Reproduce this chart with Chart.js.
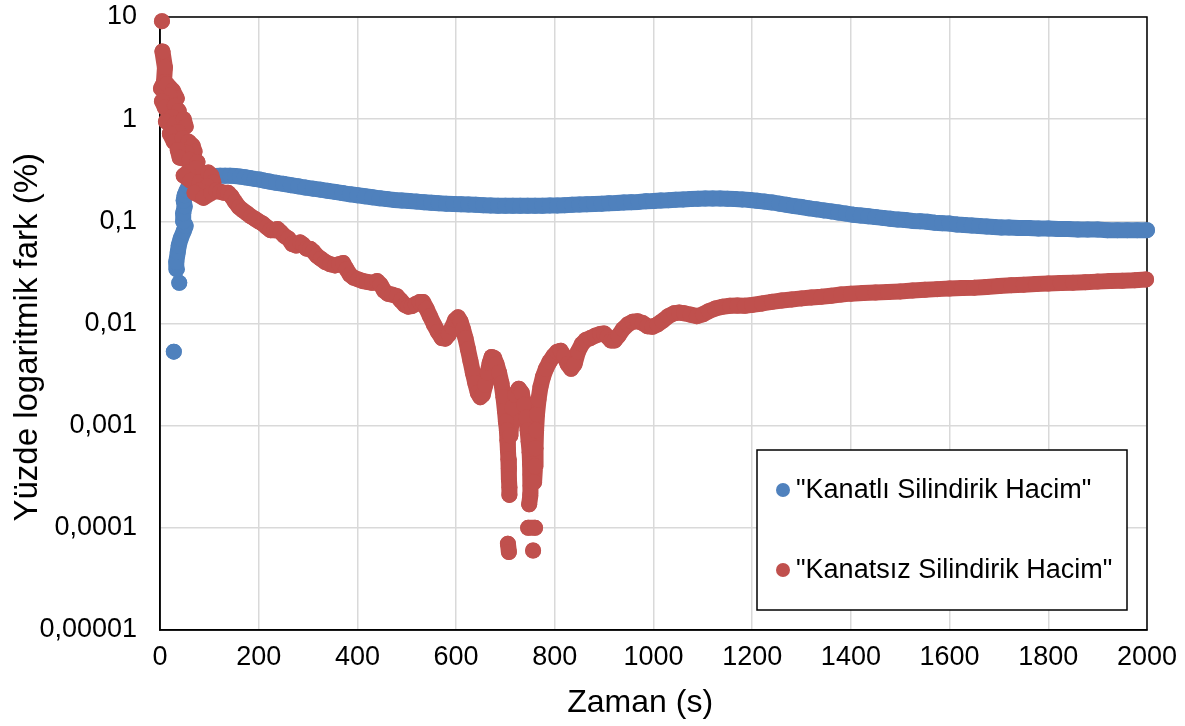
<!DOCTYPE html>
<html lang="tr">
<head>
<meta charset="utf-8">
<title>Yüzde logaritmik fark</title>
<script src="https://cdn.jsdelivr.net/npm/chart.js@4.4.1/dist/chart.umd.min.js"></script>
<style>
  html, body { margin: 0; padding: 0; background: #fff; }
  #wrap { width: 1185px; height: 726px; }
</style>
</head>
<body>
<div id="wrap"><canvas id="farkChart"></canvas></div>
<script>
// tick labels
const xTickValues = [0, 200, 400, 600, 800, 1000, 1200, 1400, 1600, 1800, 2000];
const xTickLabels = ['0', '200', '400', '600', '800', '1000', '1200', '1400', '1600', '1800', '2000'];
const yTickValues = [0.00001, 0.0001, 0.001, 0.01, 0.1, 1, 10];
const yTickLabels = ['0,00001', '0,0001', '0,001', '0,01', '0,1', '1', '10'];

// [zaman (s), fark (%)], null = gap between separate dots
const kanatliPoints = [
  [28, 0.0053], null,
  [39, 0.025], null,
  [34, 0.034], [33, 0.04], [36, 0.05], [38, 0.058], [42, 0.068], [48, 0.08], [52, 0.09], [47, 0.1],
  [47, 0.12], [50, 0.14], [48, 0.16], [50, 0.18], [54, 0.2], [58, 0.22], [64, 0.24], [72, 0.255],
  [82, 0.265], [92, 0.27], [102, 0.275], [112, 0.278], [122, 0.28], [132, 0.28], [142, 0.28],
  [152, 0.278], [162, 0.274], [172, 0.27], [182, 0.265], [192, 0.26], [202, 0.256], [212, 0.25],
  [222, 0.245], [236, 0.238], [250, 0.233], [265, 0.226], [280, 0.22], [295, 0.214], [310, 0.209],
  [325, 0.204], [340, 0.199], [355, 0.194], [370, 0.189], [385, 0.184], [400, 0.18], [415, 0.176],
  [430, 0.172], [445, 0.168], [460, 0.165], [475, 0.162], [490, 0.16], [505, 0.158], [520, 0.156],
  [535, 0.154], [550, 0.152], [565, 0.15], [580, 0.149], [595, 0.148], [610, 0.147], [625, 0.146],
  [640, 0.145], [655, 0.144], [670, 0.143], [685, 0.142], [700, 0.142], [715, 0.142], [730, 0.142],
  [745, 0.142], [760, 0.142], [775, 0.142], [790, 0.143], [805, 0.143], [820, 0.144], [835, 0.145],
  [850, 0.146], [865, 0.147], [880, 0.148], [895, 0.149], [910, 0.15], [925, 0.151], [940, 0.153],
  [955, 0.154], [970, 0.155], [985, 0.157], [1000, 0.158], [1015, 0.16], [1030, 0.161], [1045, 0.163],
  [1060, 0.164], [1075, 0.165], [1090, 0.166], [1105, 0.167], [1120, 0.167], [1135, 0.167],
  [1150, 0.166], [1165, 0.165], [1180, 0.164], [1195, 0.162], [1210, 0.159], [1225, 0.156],
  [1240, 0.153], [1255, 0.149], [1270, 0.145], [1285, 0.141], [1300, 0.138], [1315, 0.134],
  [1330, 0.131], [1345, 0.128], [1360, 0.125], [1375, 0.122], [1390, 0.119], [1405, 0.116],
  [1420, 0.114], [1435, 0.112], [1450, 0.11], [1465, 0.108], [1480, 0.106], [1495, 0.104],
  [1510, 0.103], [1525, 0.101], [1540, 0.1], [1555, 0.099], [1570, 0.097], [1585, 0.096],
  [1600, 0.095], [1615, 0.093], [1630, 0.092], [1645, 0.091], [1660, 0.09], [1675, 0.089],
  [1690, 0.088], [1705, 0.087], [1720, 0.087], [1740, 0.086], [1760, 0.086], [1780, 0.085],
  [1800, 0.085], [1820, 0.084], [1840, 0.084], [1860, 0.083], [1880, 0.083], [1900, 0.083],
  [1920, 0.082], [1940, 0.082], [1960, 0.082], [1980, 0.082], [2000, 0.082]
];

const kanatsizPoints = [
  [4, 9.1], null,
  [5, 4.6], [10, 3.2], [8, 2.3], [2, 2.0], [14, 2.2], [26, 1.9], [34, 1.6], [20, 1.7], [4, 1.5],
  [10, 1.3], [30, 1.35], [38, 1.2], [24, 1.05], [12, 0.95], [30, 0.9], [48, 1.0], [52, 0.85],
  [36, 0.75], [20, 0.72], [28, 0.6], [46, 0.65], [58, 0.6], [66, 0.55], [70, 0.48], [54, 0.47],
  [36, 0.5], [40, 0.42], [60, 0.4], [76, 0.38], [72, 0.33], [56, 0.3], [48, 0.28], [62, 0.25],
  [80, 0.24], [98, 0.3], [104, 0.28], [108, 0.24], [96, 0.22], [80, 0.2], [70, 0.19], [88, 0.17],
  [104, 0.19], [114, 0.2], [122, 0.195], [130, 0.19], [138, 0.19], [145, 0.175],
  [152, 0.155], [160, 0.138], [168, 0.128], [176, 0.12], [184, 0.112], [192, 0.106], [200, 0.1],
  [208, 0.095], [216, 0.088], [224, 0.082], [232, 0.082], [238, 0.084], [245, 0.078], [252, 0.072],
  [260, 0.068], [268, 0.06], [276, 0.058], [284, 0.062], [290, 0.059], [297, 0.054], [304, 0.054],
  [310, 0.051], [318, 0.046], [326, 0.043], [335, 0.04], [345, 0.038], [355, 0.037], [363, 0.038],
  [371, 0.039], [378, 0.034], [385, 0.03], [393, 0.028], [402, 0.027], [411, 0.026], [420, 0.0255],
  [430, 0.025], [440, 0.026], [447, 0.024], [454, 0.021], [462, 0.0195], [470, 0.0192], [480, 0.0185],
  [488, 0.0168], [496, 0.0152], [503, 0.0146], [510, 0.0148], [518, 0.0155], [526, 0.0162],
  [533, 0.0162], [540, 0.014], [547, 0.0118], [555, 0.0098], [563, 0.0083], [571, 0.0072],
  [578, 0.0071], [585, 0.0078], [592, 0.0092], [598, 0.0108], [604, 0.0115], [609, 0.0105],
  [614, 0.0088], [619, 0.0072], [624, 0.0056], [629, 0.0043], [634, 0.0033], [639, 0.0026],
  [644, 0.0021], [649, 0.0019], [654, 0.002], [659, 0.0025], [664, 0.0033], [668, 0.0041],
  [672, 0.0047], [677, 0.0046], [682, 0.004], [687, 0.0033], [692, 0.0026], [696, 0.0019],
  [699, 0.0014], [701, 0.0011], [703, 0.0009], [704, 0.00072], [705, 0.00058], [706, 0.00047],
  [707, 0.00038], [707, 0.0003], [708, 0.00025], [708, 0.00021], null,
  [705, 0.00007], [707, 0.000058], null,
  [710, 0.0008], [714, 0.0015], [720, 0.002], [727, 0.0023], [733, 0.0021], [738, 0.0016],
  [742, 0.0012], [745, 0.0009], [747, 0.0007], [749, 0.00055], [750, 0.00042], [751, 0.00033],
  [751, 0.00026], [750, 0.00021], [748, 0.00017], null,
  [746, 0.0001], [760, 0.0001], null,
  [756, 0.00006], null,
  [758, 0.00028], [760, 0.0004], [761, 0.0006], [762, 0.0009], [764, 0.0013], [767, 0.0018],
  [771, 0.0024], [776, 0.003], [782, 0.0036], [789, 0.0042], [797, 0.0048], [805, 0.0053],
  [812, 0.0054], [819, 0.0048], [826, 0.004], [833, 0.0036], [840, 0.004], [847, 0.0053],
  [855, 0.0063], [863, 0.0069], [872, 0.0072], [882, 0.0076], [892, 0.0079], [900, 0.008],
  [907, 0.0074], [914, 0.0068], [921, 0.0068], [929, 0.0076], [938, 0.0088], [948, 0.0098],
  [958, 0.0104], [968, 0.0105], [978, 0.0101], [988, 0.0094], [998, 0.0093], [1008, 0.0098],
  [1018, 0.0106], [1030, 0.0118], [1042, 0.0126], [1052, 0.0128], [1062, 0.0126], [1075, 0.0122],
  [1088, 0.0118], [1100, 0.0123], [1112, 0.0132], [1125, 0.014], [1140, 0.0146], [1155, 0.0149],
  [1170, 0.015], [1185, 0.0149], [1200, 0.0152], [1220, 0.0157], [1240, 0.0163], [1260, 0.0168],
  [1280, 0.0172], [1300, 0.0176], [1320, 0.018], [1340, 0.0183], [1360, 0.0187], [1380, 0.0192],
  [1400, 0.0196], [1425, 0.0199], [1450, 0.0201], [1475, 0.0203], [1500, 0.0206], [1525, 0.021],
  [1550, 0.0214], [1575, 0.0217], [1600, 0.022], [1625, 0.0222], [1650, 0.0224], [1675, 0.0228],
  [1700, 0.0233], [1725, 0.0237], [1750, 0.024], [1775, 0.0243], [1800, 0.0246], [1825, 0.0249],
  [1850, 0.0251], [1875, 0.0254], [1900, 0.0257], [1925, 0.026], [1950, 0.0262], [1975, 0.0265],
  [1998, 0.027]
];

const BLUE = '#4f81bd';
const RED = '#c0504d';
const FONT = "'Liberation Sans', Arial, sans-serif";

Chart.defaults.font.family = FONT;
Chart.defaults.color = '#000';

const toXY = arr => arr.map(p => p ? { x: p[0], y: p[1] } : { x: null, y: null });

function seriesStyle(color) {
  return {
    borderColor: color,
    backgroundColor: color,
    pointBackgroundColor: color,
    borderWidth: 16,
    borderJoinStyle: 'round',
    borderCapStyle: 'round',
    pointRadius: 8,
    pointHoverRadius: 8,
    pointBorderWidth: 0,
    tension: 0,
    spanGaps: false,
    clip: false
  };
}

// plot frame on all sides, like the excel plot area border
const plotFrame = {
  id: 'plotFrame',
  beforeDatasetsDraw(chart) {
    const { ctx, chartArea: a } = chart;
    ctx.save();
    ctx.strokeStyle = '#000';
    ctx.lineWidth = 1.5;
    ctx.strokeRect(a.left, a.top, a.right - a.left, a.bottom - a.top);
    ctx.restore();
  }
};

// boxed legend in the lower right of the plot
const boxLegend = {
  id: 'boxLegend',
  afterDraw(chart) {
    const { ctx, chartArea: a } = chart;
    const w = 370, h = 160;
    const left = a.right - 20 - w;
    const top = a.bottom - 20 - h;
    ctx.save();
    ctx.fillStyle = '#fff';
    ctx.fillRect(left, top, w, h);
    ctx.strokeStyle = '#000';
    ctx.lineWidth = 1.5;
    ctx.strokeRect(left, top, w, h);
    ctx.font = '27px ' + FONT;
    ctx.textBaseline = 'middle';
    chart.data.datasets.forEach((ds, i) => {
      const y = top + 40 + i * 80;
      ctx.fillStyle = ds.borderColor;
      ctx.beginPath();
      ctx.arc(left + 26, y, 7, 0, Math.PI * 2);
      ctx.fill();
      ctx.fillStyle = '#000';
      ctx.fillText(ds.label, left + 39, y + 1);
    });
    ctx.restore();
  }
};

new Chart(document.getElementById('farkChart'), {
  type: 'line',
  data: {
    datasets: [
      Object.assign({ label: '"Kanatlı Silindirik Hacim"', data: toXY(kanatliPoints), order: 1 }, seriesStyle(BLUE)),
      Object.assign({ label: '"Kanatsız Silindirik Hacim"', data: toXY(kanatsizPoints), order: 0 }, seriesStyle(RED))
    ]
  },
  options: {
    responsive: true,
    maintainAspectRatio: false,
    animation: false,
    layout: { padding: { left: 0, top: 17, right: 38, bottom: 0 } },
    plugins: {
      legend: { display: false },
      tooltip: { enabled: false }
    },
    scales: {
      x: {
        type: 'linear',
        min: 0,
        max: 2000,
        afterBuildTicks: s => { s.ticks = xTickValues.map(v => ({ value: v })); },
        afterFit: s => { s.height = 96; s.paddingLeft = 0; s.paddingRight = 0; },
        ticks: {
          autoSkip: false,
          maxRotation: 0,
          padding: 11,
          font: { size: 27 },
          color: '#000',
          callback: (v, i) => xTickLabels[i]
        },
        grid: { color: '#d9d9d9', lineWidth: 1.5, drawTicks: false },
        border: { color: '#000', width: 1.5 },
        title: {
          display: true,
          // trailing spaces nudge the title a little left, as in the source
          text: 'Zaman (s)   ',
          font: { size: 32 },
          color: '#000',
          padding: { top: 0, bottom: 4 }
        }
      },
      y: {
        type: 'logarithmic',
        min: 0.00001,
        max: 10,
        afterBuildTicks: s => { s.ticks = yTickValues.map(v => ({ value: v })); },
        afterFit: s => { s.width = 160; s.paddingTop = 0; s.paddingBottom = 0; },
        ticks: {
          autoSkip: false,
          padding: 23,
          font: { size: 27 },
          color: '#000',
          callback: (v, i) => yTickLabels[i]
        },
        grid: { color: '#d9d9d9', lineWidth: 1.5, drawTicks: false },
        border: { color: '#000', width: 1.5 },
        title: {
          display: true,
          text: 'Yüzde logaritmik fark (%)   ',
          font: { size: 33 },
          color: '#000',
          padding: { top: 8, bottom: 0 }
        }
      }
    }
  },
  plugins: [plotFrame, boxLegend]
});
</script>
</body>
</html>
